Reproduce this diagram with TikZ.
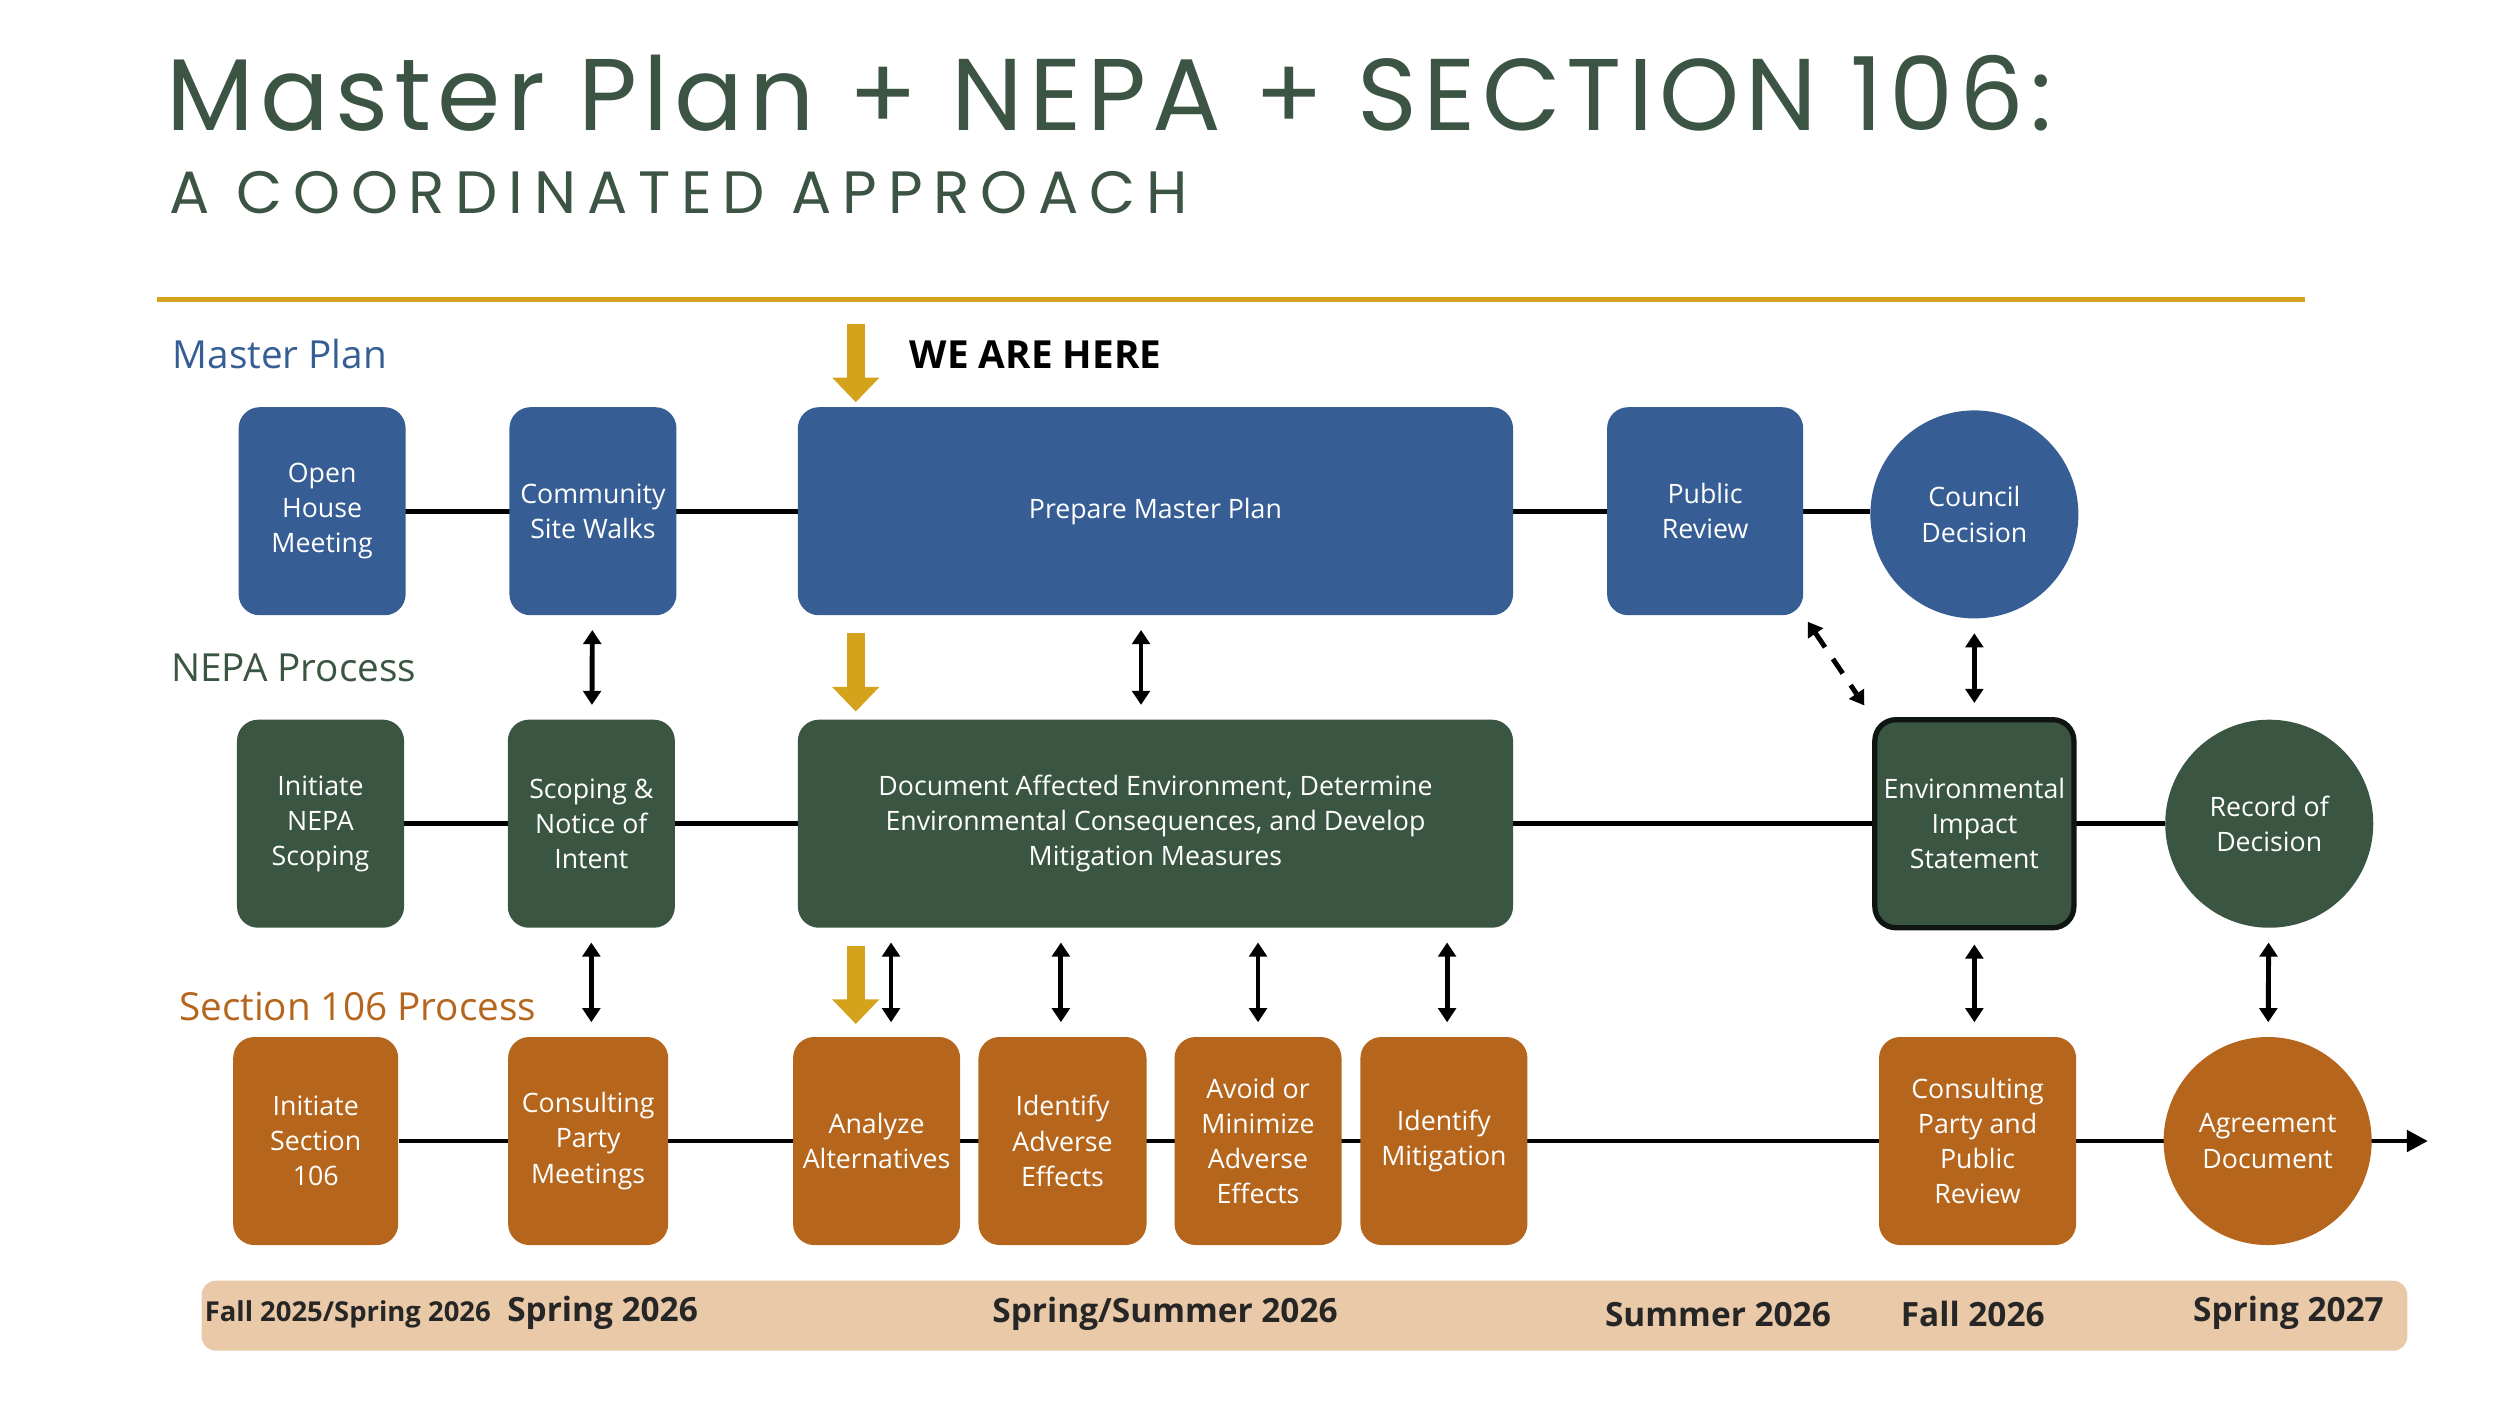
\documentclass[tikz,border=0pt]{standalone}
\usepackage{fontspec}
\setmainfont{Open Sans}
\newfontfamily\titlefont{Poppins}
\usetikzlibrary{arrows.meta,positioning,calc}
\definecolor{mpblue}{HTML}{375E94}
\definecolor{nepagreen}{HTML}{3A5542}
\definecolor{secorange}{HTML}{B5661C}
\definecolor{goldline}{HTML}{D4A31B}
\definecolor{tanbar}{HTML}{E9C9A7}
\definecolor{titlegreen}{HTML}{3C5443}
\tikzset{
  base/.style={align=center, text=white, font=\fontsize{7.6}{10}\selectfont, inner sep=1pt},
  box/.style={base, rectangle, rounded corners=6pt, minimum height=2.08cm},
  mp/.style={box, fill=mpblue},
  nepa/.style={box, fill=nepagreen},
  sec/.style={box, fill=secorange},
  disc/.style={base, circle, minimum size=2.08cm},
  rowlabel/.style={anchor=west, font=\fontsize{11}{13}\selectfont},
  spine/.style={line width=1.4pt, draw=black},
  dbl/.style={{Triangle[length=4pt,width=5pt]}-{Triangle[length=4pt,width=5pt]}, line width=1.4pt},
  here/.style={-{Triangle[length=7pt,width=13pt]}, line width=5pt, draw=goldline},
  when/.style={font=\fontsize{9.5}{11}\selectfont\bfseries, text=black!85}
}
\begin{document}
\begin{tikzpicture}[x=0.016026cm, y=-0.016026cm]
  \useasboundingbox (0,0) rectangle (1560,877);
  % Title
  \node[anchor=west, text=titlegreen, font=\titlefont\fontsize{29}{32}\selectfont\addfontfeature{LetterSpace=6}] (title) at (96,58) {Master Plan + NEPA + SECTION 106:};
  \node[anchor=west, text=titlegreen, font=\titlefont\fontsize{17}{20}\selectfont\addfontfeature{LetterSpace=18}] (subtitle) at (98,120) {A COORDINATED APPROACH};
  \draw[goldline, line width=1.3pt] (98,187) -- (1438,187);

  % Row labels
  \node[rowlabel, text=mpblue] (lmp) at (100,221) {Master Plan};
  \node[rowlabel, text=nepagreen] (lnepa) at (99,417) {NEPA Process};
  \node[rowlabel, text=secorange] (lsec) at (104,628) {Section 106 Process};
  \node[anchor=west, font=\fontsize{11}{13}\selectfont\bfseries] (weare) at (560,221) {WE ARE HERE};

  % Spines
  \coordinate (mpl) at (253,319); \coordinate (mpr) at (1167,319);
  \coordinate (nel) at (252,514); \coordinate (ner) at (1351,514);
  \coordinate (sel) at (249,712); \coordinate (ser) at (1515,712);
  \draw[spine] (mpl) -- (mpr);
  \draw[spine] (nel) -- (ner);
  \draw[spine, -{Triangle[length=6pt,width=6pt]}] (sel) -- (ser);

  % Master Plan
  \node[mp, minimum width=1.67cm] (open) at (201,319) {Open\\House\\Meeting};
  \node[mp, minimum width=1.67cm] (walks) at (370,319) {Community\\Site Walks};
  \node[mp, minimum width=7.15cm] (prep) at (721,319) {Prepare Master Plan};
  \node[mp, minimum width=1.96cm] (review) at (1064,319) {Public\\Review};
  \node[disc, fill=mpblue] (council) at (1232,321) {Council\\Decision};

  % NEPA
  \node[nepa, minimum width=1.67cm] (initnepa) at (200,514) {Initiate\\NEPA\\Scoping};
  \node[nepa, minimum width=1.67cm] (scoping) at (369,514) {Scoping \&\\Notice of\\Intent};
  \node[nepa, minimum width=7.15cm] (docenv) at (721,514) {Document Affected Environment, Determine\\Environmental Consequences, and Develop\\Mitigation Measures};
  \node[nepa, minimum width=1.99cm, draw=black!75!nepagreen, line width=1.5pt] (eis) at (1232,514) {Environmental\\Impact\\Statement};
  \node[disc, fill=nepagreen] (rod) at (1416,514) {Record of\\Decision};

  % Section 106
  \node[sec, minimum width=1.65cm] (initsec) at (197,712) {Initiate\\Section\\106};
  \node[sec, minimum width=1.6cm] (cpm) at (367,712) {Consulting\\Party\\Meetings};
  \node[sec, minimum width=1.67cm] (analyze) at (547,712) {Analyze\\Alternatives};
  \node[sec, minimum width=1.68cm] (adverse) at (663,712) {Identify\\Adverse\\Effects};
  \node[sec, minimum width=1.67cm] (avoid) at (785,712) {Avoid or\\Minimize\\Adverse\\Effects};
  \node[sec, minimum width=1.67cm] (mitig) at (901,712) {Identify\\Mitigation};
  \node[sec, minimum width=1.97cm] (cpr) at (1234,712) {Consulting\\Party and\\Public\\Review};
  \node[disc, fill=secorange] (agree) at (1415,712) {Agreement\\Document};

  % Links between rows
  \draw[dbl, shorten <=4pt, shorten >=4pt] (walks) -- (scoping);
  \draw[dbl, shorten <=4pt, shorten >=4pt] (scoping) -- (cpm.north -| scoping);
  \draw[dbl, shorten <=4pt, shorten >=4pt] (prep.south -| 712,0) -- (docenv.north -| 712,0);
  \draw[dbl, shorten <=4pt, shorten >=4pt] (council) -- (eis);
  \draw[dbl, dashed, dash pattern=on 5pt off 4pt, shorten <=2pt, shorten >=4pt] (review.south east) -- (eis.north west);
  \draw[dbl, shorten <=4pt, shorten >=4pt] (eis) -- (cpr.north -| eis);
  \draw[dbl, shorten <=4pt, shorten >=4pt] (rod) -- (agree);
  \foreach \n/\px in {analyze/556, adverse/662, avoid/785, mitig/903}
    \draw[dbl, shorten <=4pt, shorten >=4pt] (docenv.south -| \px,0) -- (\n.north -| \px,0);

  % We are here
  \draw[here] (534,202) -- (534,251);
  \draw[here] (534,395) -- (534,444);
  \draw[here] (534,590) -- (534,639);

  % Timeline
  \node[fill=tanbar, rounded corners=4pt, minimum width=22.05cm, minimum height=0.7cm] (bar) at (814,821) {};
  \node[font=\fontsize{7.8}{9}\selectfont\bfseries, text=black!85] (t1) at (217,820) {Fall 2025/Spring 2026};
  \node[when] (t2) at (376,819) {Spring 2026};
  \node[when] (t3) at (727,820) {Spring/Summer 2026};
  \node[when] (t4) at (1072,820) {Summer 2026};
  \node[when] (t5) at (1231,820) {Fall 2026};
  \node[when] (t6) at (1428,819) {Spring 2027};
\end{tikzpicture}
\end{document}
